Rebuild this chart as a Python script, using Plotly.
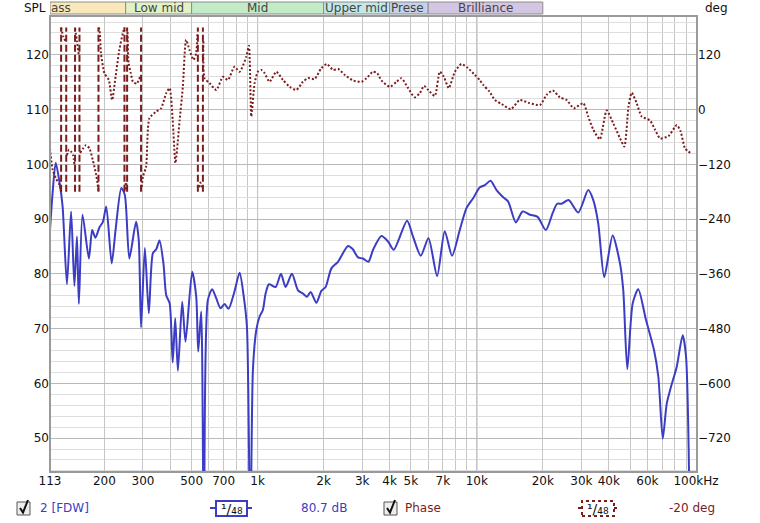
import math
import plotly.graph_objects as go

# ---------------- data ----------------
spl_freq = [113, 116, 120, 125, 129, 135, 141, 146, 150, 153, 159, 170, 176, 182, 190, 197, 204,
            216, 225, 239, 248, 260, 279, 287, 294, 306, 319, 333, 345, 357, 372, 383, 397, 410,
            421, 433, 453, 469, 503, 525, 536, 553, 569, 593, 621, 648, 678, 707, 737, 780, 828,
            863, 894, 926, 952, 986, 1021, 1057, 1088, 1127, 1208, 1278, 1342, 1434, 1528, 1610,
            1680, 1746, 1854, 1954, 2044, 2170, 2326, 2585, 2720, 2871, 3026, 3203, 3363, 3672,
            3936, 4178, 4806, 5118, 5550, 6018, 6590, 7140, 7710, 8360, 8970, 9620, 10320, 10880,
            11550, 12300, 13190, 13900, 15070, 16170, 17460, 18930, 20650, 22170, 23260, 24370,
            26220, 29010, 32230, 33960, 35800, 38130, 41650, 44980, 46560, 48570, 51400, 54500,
            59100, 64300, 67300, 70500, 73500, 76900, 81600, 86900, 90000, 93900]
spl_db = [88.0, 94.5, 100.3, 96.6, 92.3, 78.1, 91.4, 77.8, 86.8, 74.5, 90.8, 82.8, 88.0, 86.6, 88.5,
          89.5, 92.3, 81.9, 88.0, 95.7, 94.4, 82.8, 89.5, 86.2, 70.2, 84.7, 72.8, 83.8, 84.5, 86.1,
          81.9, 76.1, 74.6, 63.8, 71.9, 62.3, 74.9, 67.6, 80.4, 75.8, 65.8, 73.1, 30.0, 75.2, 77.2,
          75.5, 73.7, 74.5, 73.6, 76.4, 80.2, 76.1, 70.3, 30.0, 62.4, 69.7, 72.2, 73.4, 76.4, 78.1,
          77.6, 80.0, 77.6, 80.0, 77.0, 76.4, 75.8, 76.7, 74.7, 76.9, 77.6, 81.0, 82.2, 85.1, 84.5,
          83.0, 82.8, 82.2, 84.4, 86.9, 85.9, 84.4, 89.7, 86.8, 83.3, 86.5, 79.6, 87.8, 83.3, 88.0,
          92.0, 93.8, 95.8, 96.2, 97.0, 95.3, 94.0, 93.2, 89.4, 91.4, 90.8, 90.4, 88.0, 91.1, 92.8,
          92.8, 93.5, 91.2, 95.3, 93.5, 89.2, 79.4, 87.0, 81.9, 77.0, 62.6, 74.6, 77.2, 71.6, 66.1,
          61.2, 49.9, 56.3, 59.4, 63.0, 68.8, 64.9, 30.0]

# phase (deg), segments separated by None where the trace wraps
phase_freq = [113, 116, 120, 125, 127, None,
              127, 130, 133, None,
              135, 138, 141, 144, 146, None,
              147, 150, 153, None,
              155, 165, 171, 177, 183, 186, 188, None,
              188, 190, 193, 200, 209.5, 217, 225, 234, 243, 247, None,
              248, 251, 253, None,
              255, 258, 264, 270, 281, 291, None,
              296, 300, 310, 321, 345, 363, 383, 397, 410, 422, 441, 456, 472, 489, 510, 525, 532, None,
              540, 548, 556, None,
              566, 573, 604, 648, 695, 732, 785, 828, 888, 913, 936, 969, 1003, 1040, 1076, 1134,
              1217, 1305, 1400, 1502, 1610, 1697, 1820, 1954, 2070, 2210, 2330, 2500, 2720, 2980,
              3140, 3360, 3510, 3670, 4010, 4300, 4530, 4860, 5210, 5490, 5750, 6000, 6430, 6780,
              7070, 7450, 7940, 8510, 9120, 9790, 10300, 10700, 11400, 12100, 13000, 14300, 15700,
              17200, 19400, 20800, 22200, 23900, 25700, 27700, 30600, 32200, 34000, 36400, 39100,
              41900, 45000, 47100, 49200, 50900, 53600, 56500, 61700, 65000, 68500, 74800, 81700,
              85100, 89100, 95500]
phase_deg = [-85, -130, -150, -165, -180, None,
             180, 160, 150, None,
             -100, -88, -92, -100, -120, None,
             178, 150, 118, None,
             -95, -78, -85, -110, -140, -160, -180, None,
             180, 175, 124, 80, 65, 21, 72, 131, 168, 180, None,
             -175, -160, -175, None,
             170, 102, 80, 61, 57, 72, None,
             -170, -147, -125, -19, -4, 3, 36, 47, -23, -117, -23, 50, 153, 131, 109, 124, 170, None,
             -170, -160, -170, None,
             150, 69, 58, 43, 72, 65, 94, 83, 116, 140, -15, 58, 83, 87, 80, 61,
             83, 65, 50, 43, 61, 69, 67, 91, 100, 87, 89, 76, 64, 61,
             69, 83, 80, 64, 50, 61, 69, 47, 27, 36, 52, 43, 30, 83,
             72, 47, 83, 100, 91, 76, 65, 54, 40, 21, 12, 1, 21,
             15, 10, 32, 42, 27, 21, 3, 14, -15, -44, -65, -2,
             -30, -63, -81, 7, 37, 14, -15, -24, -44, -63, -58, -34,
             -48, -85, -97]

# frequencies where the phase trace wraps (drawn as full-height jumps)
wrap_freq = [127, 134, 147, 154, 188, 247, 254, 294, 534, 563]

# frequency bands of the header strip
band_names = ["ass", "Low mid", "Mid", "Upper mid", "Prese", "Brilliance"]
band_lo = [113, 250, 500, 2000, 4000, 6000]
band_hi = [250, 500, 2000, 4000, 6000, 20000]
band_colors = ["#fae8bb", "#e2f1c6", "#c3ebc8", "#c3e8e6", "#c4d3eb", "#d4c6e3"]

x_tick_vals = [113, 200, 300, 500, 700, 1000, 2000, 3000, 4000, 5000, 7000, 10000,
               20000, 30000, 40000, 60000, 100000]
x_tick_text = ["113", "200", "300", "500", "700", "1k", "2k", "3k", "4k", "5k", "7k", "10k",
               "20k", "30k", "40k", "60k", "100kHz"]
x_minor_vals = [400, 600, 800, 900, 6000, 8000, 9000, 50000, 70000, 80000, 90000]
x_dark_vals = [1000, 10000]

spl_range = [43.8, 127.1]
phase_range = [-794.4, 205.2]
spl_ticks = [50, 60, 70, 80, 90, 100, 110, 120]
phase_ticks = [-720, -600, -480, -360, -240, -120, 0, 120]

# ---------------- figure ----------------
BLUE = "#3d3dc4"
RED = "#7b1d1d"
FONT = "DejaVu Sans"

fig = go.Figure()

fig.add_trace(go.Scatter(x=spl_freq, y=spl_db, mode="lines",
                         line=dict(color=BLUE, width=2, shape="spline", smoothing=0.7),
                         hoverinfo="skip", showlegend=False))

wx, wy = [], []
for f in wrap_freq:
    wx += [f, f, None]
    wy += [-180, 180, None]
fig.add_trace(go.Scatter(x=wx, y=wy, yaxis="y2", mode="lines",
                         line=dict(color=RED, width=2, dash="7px,3px"),
                         hoverinfo="skip", showlegend=False))
fig.add_trace(go.Scatter(x=phase_freq, y=phase_deg, yaxis="y2", mode="lines",
                         line=dict(color=RED, width=2, dash="2px,2px", shape="spline", smoothing=0.6),
                         connectgaps=False, hoverinfo="skip", showlegend=False))

shapes = []
for f in x_dark_vals:
    shapes.append(dict(type="line", xref="x", yref="paper", x0=f, x1=f, y0=0, y1=1,
                       line=dict(color="#8a8a8a", width=1), layer="below"))
shapes.append(dict(type="rect", xref="paper", yref="paper", x0=0, x1=1, y0=0, y1=1,
                   line=dict(color="#9a9a9a", width=2)))
annotations = []
for name, lo, hi, col in zip(band_names, band_lo, band_hi, band_colors):
    shapes.append(dict(type="rect", xref="x", yref="paper", x0=lo, x1=hi, y0=1.0044, y1=1.0307,
                       fillcolor=col, line=dict(color="#8c8c8c", width=1)))
    if name in ("ass", "Prese"):
        annotations.append(dict(x=math.log10(lo), y=1.0175, xref="x", yref="paper", text=name,
                                showarrow=False, xanchor="left", yanchor="middle", xshift=-1,
                                font=dict(family=FONT, size=12, color="#444")))
    else:
        annotations.append(dict(x=(math.log10(lo) + math.log10(hi)) / 2, y=1.0175, xref="x",
                                yref="paper", text=name, showarrow=False, xanchor="center",
                                yanchor="middle", font=dict(family=FONT, size=12, color="#444")))

def px(xp):
    return (xp - 50) / 647.0

def py(yp):
    return (472 - yp) / 456.0

annotations.append(dict(x=px(34.5), y=py(8), xref="paper", yref="paper", text="SPL",
                        showarrow=False, xanchor="center", yanchor="middle",
                        font=dict(family=FONT, size=12, color="#111")))
annotations.append(dict(x=px(716), y=py(8), xref="paper", yref="paper", text="deg",
                        showarrow=False, xanchor="center", yanchor="middle",
                        font=dict(family=FONT, size=12, color="#111")))

# checkboxes with drawn check marks
for cx in (17, 384):
    shapes.append(dict(type="rect", xref="paper", yref="paper", x0=px(cx), x1=px(cx + 13),
                       y0=py(515), y1=py(502), fillcolor="#eeeeee", line=dict(color="#555", width=1)))
    shapes.append(dict(type="path", xref="paper", yref="paper",
                       path="M %f,%f L %f,%f L %f,%f" % (px(cx + 3), py(508), px(cx + 6), py(512.5),
                                                          px(cx + 11), py(500)),
                       line=dict(color="#111", width=2)))

shapes.append(dict(type="line", xref="paper", yref="paper", x0=px(210), x1=px(252), y0=py(508),
                   y1=py(508), line=dict(color=BLUE, width=2)))
shapes.append(dict(type="rect", xref="paper", yref="paper", x0=px(216), x1=px(247), y0=py(516),
                   y1=py(501), fillcolor="white", line=dict(color=BLUE, width=2)))
shapes.append(dict(type="line", xref="paper", yref="paper", x0=px(578), x1=px(618), y0=py(508),
                   y1=py(508), line=dict(color=RED, width=2, dash="dot")))
shapes.append(dict(type="rect", xref="paper", yref="paper", x0=px(582), x1=px(614), y0=py(516),
                   y1=py(501), fillcolor="white", line=dict(color=RED, width=2, dash="dot")))

legend_items = [(38, "2 [FDW]", BLUE), (299, "80.7 dB", BLUE),
                (403, "Phase", RED), (667, "-20 deg", RED)]
for xp, txt, col in legend_items:
    annotations.append(dict(x=px(xp), y=py(508), xref="paper", yref="paper", text=txt,
                            showarrow=False, xanchor="left", yanchor="middle",
                            font=dict(family=FONT, size=12, color=col)))
for xc in (231.5, 598):
    annotations.append(dict(x=px(xc), y=py(508.5), xref="paper", yref="paper",
                            text="¹/₄₈", showarrow=False, xanchor="center", yanchor="middle",
                            font=dict(family=FONT, size=14, color="#111")))

fig.update_layout(
    width=760, height=523,
    margin=dict(l=50, r=63, t=16, b=51, autoexpand=False),
    paper_bgcolor="white", plot_bgcolor="white",
    font=dict(family=FONT, size=12, color="#111"),
    showlegend=False,
    xaxis=dict(type="log", range=[math.log10(113), math.log10(101000)], automargin=False,
               tickmode="array", tickvals=x_tick_vals, ticktext=x_tick_text,
               showgrid=True, gridcolor="#c6c6c6", gridwidth=1, ticks="", zeroline=False,
               showline=False, tickfont=dict(family=FONT, size=12, color="#111"),
               minor=dict(tickmode="array", tickvals=x_minor_vals, showgrid=True,
                          gridcolor="#c6c6c6", ticks="")),
    yaxis=dict(range=spl_range, tickmode="array", tickvals=spl_ticks, showgrid=True,
               automargin=False, gridcolor="#b9b9b9", ticks="", zeroline=False, showline=False,
               tickfont=dict(family=FONT, size=12, color="#111"),
               minor=dict(dtick=2, tick0=0, showgrid=True, gridcolor="#dedede", ticks="")),
    yaxis2=dict(range=phase_range, overlaying="y", side="right", tickmode="array",
                automargin=False, tickvals=phase_ticks, showgrid=False, ticks="", zeroline=False,
                showline=False, tickfont=dict(family=FONT, size=12, color="#111")),
    shapes=shapes, annotations=annotations,
)

fig.write_html("out.html", config={"displayModeBar": False},
               post_script="document.body.style.margin='0px';")
